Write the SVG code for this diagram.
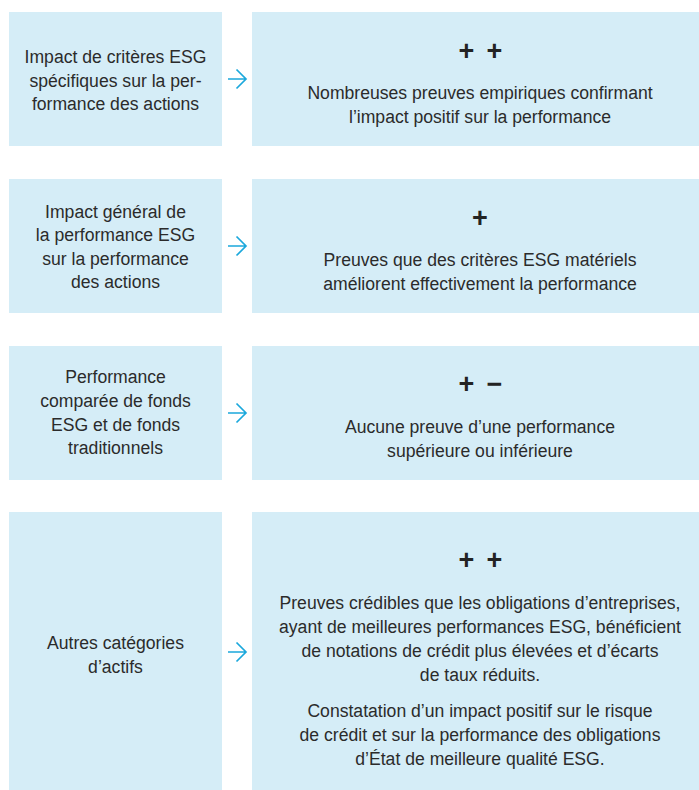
<svg xmlns="http://www.w3.org/2000/svg" width="699" height="790" viewBox="0 0 699 790">
<defs>
<style>
.box{fill:#d5edf7}
.t{font-family:"Liberation Sans",Arial,sans-serif;font-size:17.6px;fill:#2b2b2b;text-anchor:middle}
.s{font-family:"Liberation Sans",Arial,sans-serif;font-size:27px;font-weight:bold;fill:#232323;text-anchor:middle}
.arr{fill:none;stroke:#1ba8dc;stroke-width:1.7;stroke-linecap:butt;stroke-linejoin:miter}
</style>
</defs>
<rect width="699" height="790" fill="#ffffff"/>

<g id="row1-left">
<rect class="box" x="9" y="12" width="213" height="134"/>
<text class="t" x="115.5" y="63">Impact de critères ESG</text>
<text class="t" x="115.5" y="86.5">spécifiques sur la per-</text>
<text class="t" x="115.5" y="110">formance des actions</text>
</g>
<g id="row1-right">
<rect class="box" x="252" y="12" width="460" height="134"/>
<text class="s" x="466.3" y="59.5">+</text>
<text class="s" x="494.5" y="59.5">+</text>
<text class="t" x="480" y="99.3">Nombreuses preuves empiriques confirmant</text>
<text class="t" x="480" y="123.3">l’impact positif sur la performance</text>
</g>

<g id="row2-left">
<rect class="box" x="9" y="179" width="213" height="134"/>
<text class="t" x="115.5" y="217.5">Impact général de</text>
<text class="t" x="115.5" y="241">la performance ESG</text>
<text class="t" x="115.5" y="264.5">sur la performance</text>
<text class="t" x="115.5" y="288">des actions</text>
</g>
<g id="row2-right">
<rect class="box" x="252" y="179" width="460" height="134"/>
<text class="s" x="480" y="227.2">+</text>
<text class="t" x="480" y="266">Preuves que des critères ESG matériels</text>
<text class="t" x="480" y="290">améliorent effectivement la performance</text>
</g>

<g id="row3-left">
<rect class="box" x="9" y="346" width="213" height="134"/>
<text class="t" x="115.5" y="383">Performance</text>
<text class="t" x="115.5" y="406.7">comparée de fonds</text>
<text class="t" x="115.5" y="430.5">ESG et de fonds</text>
<text class="t" x="115.5" y="454">traditionnels</text>
</g>
<g id="row3-right">
<rect class="box" x="252" y="346" width="460" height="134"/>
<text class="s" x="466.3" y="392.7">+</text>
<text class="s" x="494.5" y="392.7">−</text>
<text class="t" x="480" y="432.7">Aucune preuve d’une performance</text>
<text class="t" x="480" y="456.7">supérieure ou inférieure</text>
</g>

<g id="row4-left">
<rect class="box" x="9" y="512" width="213" height="290"/>
<text class="t" x="115.5" y="649">Autres catégories</text>
<text class="t" x="115.5" y="672.5">d’actifs</text>
</g>
<g id="row4-right">
<rect class="box" x="252" y="512" width="460" height="290"/>
<text class="s" x="466.3" y="568.8">+</text>
<text class="s" x="494.5" y="568.8">+</text>
<text class="t" x="480" y="609.3">Preuves crédibles que les obligations d’entreprises,</text>
<text class="t" x="480" y="633.3">ayant de meilleures performances ESG, bénéficient</text>
<text class="t" x="480" y="657.3">de notations de crédit plus élevées et d’écarts</text>
<text class="t" x="480" y="681">de taux réduits.</text>
<text class="t" x="480" y="717.3">Constatation d’un impact positif sur le risque</text>
<text class="t" x="480" y="741.3">de crédit et sur la performance des obligations</text>
<text class="t" x="480" y="765">d’État de meilleure qualité ESG.</text>
</g>

<g id="connectors">
<path class="arr" d="M228 79 H246.5 M236.5 69.5 L246 79 L236.5 88.5"/>
<path class="arr" d="M228 246 H246.5 M236.5 236.5 L246 246 L236.5 255.5"/>
<path class="arr" d="M228 413 H246.5 M236.5 403.5 L246 413 L236.5 422.5"/>
<path class="arr" d="M228 652 H246.5 M236.5 642.5 L246 652 L236.5 661.5"/>
</g>
</svg>
